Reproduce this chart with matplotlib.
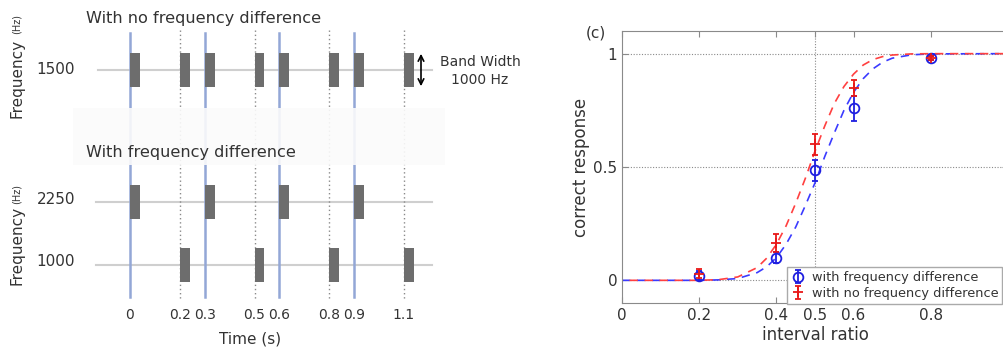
import numpy as np
import matplotlib
matplotlib.use("Agg")
import matplotlib.pyplot as plt
from matplotlib.patches import Rectangle

# ---- schematic (left) data ----
high_times = [0, 0.3, 0.6, 0.9]      # first tone of each pair (2250 Hz)
low_times = [0.2, 0.5, 0.8, 1.1]     # second tone of each pair (1000 Hz)
onset_labels = ["0", "0.2", "0.3", "0.5", "0.6", "0.8", "0.9", "1.1"]
onset_times = [0, 0.2, 0.3, 0.5, 0.6, 0.8, 0.9, 1.1]
tone_dur = 0.04
freq_labels = ["1500", "2250", "1000"]

# ---- psychometric (right) data ----
ratio = [0.2, 0.4, 0.5, 0.6, 0.8]
resp_diff = [0.02, 0.10, 0.485, 0.76, 0.98]
err_diff = [0.02, 0.025, 0.045, 0.055, 0.01]
resp_nodiff = [0.03, 0.165, 0.60, 0.85, 0.98]
err_nodiff = [0.02, 0.04, 0.045, 0.035, 0.01]

fit_x = [0, 0.2, 0.25, 0.3, 0.35, 0.375, 0.4, 0.425, 0.45, 0.475, 0.5, 0.525,
         0.55, 0.575, 0.6, 0.625, 0.65, 0.675, 0.7, 0.75, 0.8, 1.0]
fit_diff = [0, 0.0, 0.002, 0.008, 0.034, 0.06, 0.10, 0.159, 0.235, 0.33, 0.43, 0.545,
            0.65, 0.75, 0.83, 0.89, 0.933, 0.962, 0.98, 0.995, 0.999, 1.0]
fit_nodiff = [0, 0.0, 0.003, 0.015, 0.056, 0.098, 0.159, 0.24, 0.34, 0.45, 0.57, 0.68,
              0.78, 0.855, 0.91, 0.95, 0.974, 0.987, 0.994, 0.999, 1.0, 1.0]

W, H = 1004, 349
txt = "#333333"
fig = plt.figure(figsize=(W / 100, H / 100), dpi=100)

# left panel: x in seconds, y in pixel rows
ax0 = fig.add_axes([0, 0, 560 / W, 1])
px = 249.0
ax0.set_xlim(-130 / px, (560 - 130) / px)
ax0.set_ylim(H, 0)
ax0.axis("off")

def t_of(xpix):
    return (xpix - 130) / px

bar_col = "#6d6d6d"
line_col = "#cfcfcf"
blue_col = "#93a7d6"

# gray frequency lines
ax0.plot([t_of(98), t_of(432)], [70, 70], color=line_col, lw=1.5, zorder=1)
ax0.plot([t_of(96), t_of(432)], [202, 202], color=line_col, lw=1.5, zorder=1)
ax0.plot([t_of(96), t_of(432)], [265, 265], color=line_col, lw=1.5, zorder=1)

# onset markers
for t in high_times:
    ax0.plot([t, t], [33, 297], color=blue_col, lw=1.8, zorder=2)
for t in low_times:
    ax0.plot([t, t], [30, 300], color="#8a8a8a", lw=1, ls=(0, (1, 2)), zorder=2)

# fading box between the two panels
ax0.add_patch(Rectangle((t_of(73), 108), t_of(445) - t_of(73), 57,
                        facecolor="#fbfbfb", edgecolor="none", alpha=0.9, zorder=3))

# tones
ax0.bar(high_times + low_times, 34, bottom=53, width=tone_dur, align="edge",
        color=bar_col, zorder=4)
ax0.bar(high_times, 34, bottom=185, width=tone_dur, align="edge", color=bar_col, zorder=4)
ax0.bar(low_times, 34, bottom=248, width=tone_dur, align="edge", color=bar_col, zorder=4)

for t, lab in zip(onset_times, onset_labels):
    ax0.text(t, 315, lab, ha="center", va="center", fontsize=10, color=txt)
ax0.text(t_of(250), 339, "Time (s)", ha="center", va="center", fontsize=11, color=txt)

ax0.text(t_of(86), 18, "With no frequency difference", ha="left", va="center",
         fontsize=11.6, color=txt)
ax0.text(t_of(86), 153, "With frequency difference", ha="left", va="center",
         fontsize=11.6, color=txt, zorder=5)

for lab, y in zip(freq_labels, [70, 200, 262]):
    ax0.text(t_of(56), y, lab, ha="center", va="center", fontsize=11, color=txt)
for yf, yh in [(78, 24), (245, 194)]:
    ax0.text(t_of(17), yf, "Frequency", rotation=90, ha="center", va="center",
             fontsize=11, color=txt)
    ax0.text(t_of(17), yh, "(Hz)", rotation=90, ha="center", va="center",
             fontsize=7, color=txt)

ax0.annotate("", xy=(t_of(421), 51), xytext=(t_of(421), 89),
             arrowprops=dict(arrowstyle="<->", color="black", lw=1.2))
ax0.text(t_of(480), 62, "Band Width", ha="center", va="center", fontsize=10, color=txt)
ax0.text(t_of(480), 80, "1000 Hz", ha="center", va="center", fontsize=10, color=txt)

# right panel
ax1 = fig.add_axes([622 / W, (H - 303) / H, 386 / W, 272 / H])
ax1.set_xlim(0, 1)
ax1.set_ylim(-0.1, 1.1)
for s in ax1.spines.values():
    s.set_color("#8a8a8a")
ax1.tick_params(direction="in", top=True, right=True, length=4, colors="#8a8a8a",
                labelcolor=txt, labelsize=11)
ax1.set_xticks([0, 0.2, 0.4, 0.5, 0.6, 0.8, 1])
ax1.set_xticklabels(["0", "0.2", "0.4", "0.5", "0.6", "0.8", ""])
ax1.set_yticks([0, 0.5, 1])
ax1.set_yticklabels(["0", "0.5", "1"])
for y in [0, 0.5, 1]:
    ax1.axhline(y, color="#8a8a8a", lw=0.8, ls=(0, (1, 1.5)), zorder=0)
ax1.axvline(0.5, color="#8a8a8a", lw=0.8, ls=(0, (1, 1.5)), zorder=0)

ax1.plot(fit_x, fit_diff, color="#3b3bff", lw=1.2, ls=(0, (5, 4)), zorder=2)
ax1.plot(fit_x, fit_nodiff, color="#ff4040", lw=1.2, ls=(4.5, (5, 4)), zorder=2)
ax1.errorbar(ratio, resp_diff, yerr=err_diff, fmt="o", color="#1f1fe0", mfc="none",
             ms=7, mew=1.3, capsize=2, elinewidth=1.3, zorder=3,
             label="with frequency difference")
ax1.errorbar(ratio, resp_nodiff, yerr=err_nodiff, fmt="+", color="#e81818",
             ms=7, mew=1.3, capsize=2, elinewidth=1.3, zorder=3,
             label="with no frequency difference")

ax1.set_xlabel("interval ratio", fontsize=12, color=txt, labelpad=2)
ax1.set_ylabel("correct response", fontsize=12, color=txt, labelpad=2)
leg = ax1.legend(loc="upper left", bbox_to_anchor=(781 / W, 1 - 261 / H),
                 bbox_transform=fig.transFigure, fontsize=9.3, frameon=True,
                 fancybox=False, edgecolor="#aaaaaa", handlelength=1.0,
                 borderpad=0.3, labelspacing=0.2, handletextpad=0.6)
leg.get_frame().set_alpha(1)
for t in leg.get_texts():
    t.set_color(txt)
fig.text(596 / W, 1 - 33 / H, "(c)", fontsize=11, color=txt, ha="center", va="center")

fig.savefig("out.png", dpi=100, facecolor="white")
